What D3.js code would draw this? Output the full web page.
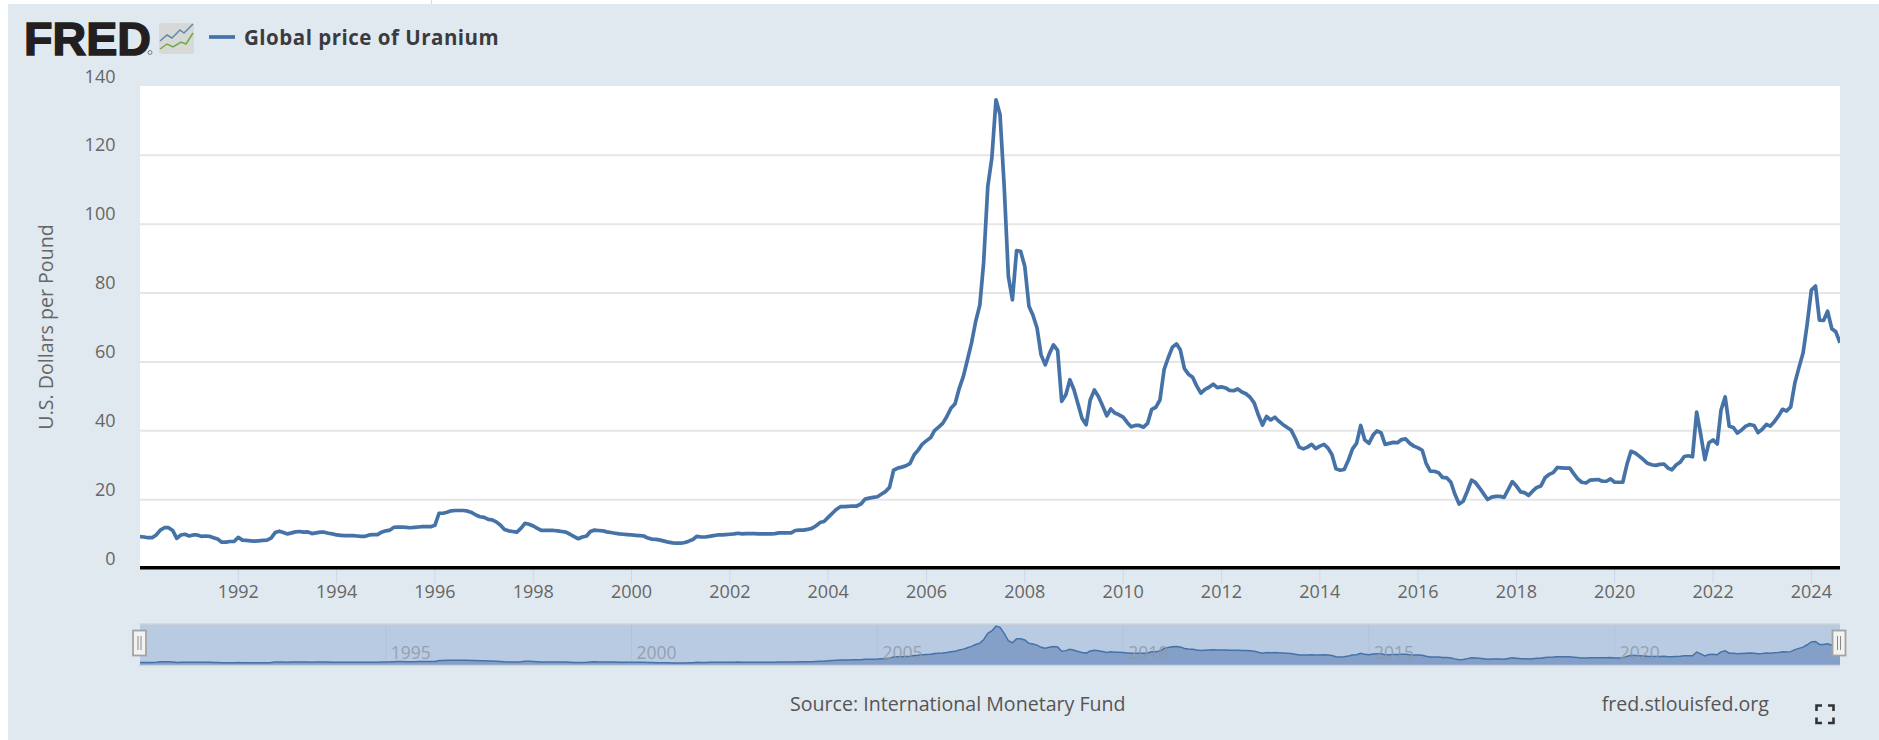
<!DOCTYPE html>
<html><head><meta charset="utf-8">
<script src="https://cdnjs.cloudflare.com/ajax/libs/d3/7.8.5/d3.min.js"></script>
<style>
html,body{margin:0;padding:0;background:#fff;overflow:hidden}
svg{display:block}
text{font-family:"Open Sans",sans-serif}
</style></head><body>
<svg id="c" width="1879" height="740"></svg>
<script>
const seriesName = "Global price of Uranium";
const yAxisTitle = "U.S. Dollars per Pound";
const sourceText = "Source: International Monetary Fund";
const siteText = "fred.stlouisfed.org";
const startYear = 1990;
const endDate = new Date(Date.UTC(2024, 7, 1));
const yTicks = [0, 20, 40, 60, 80, 100, 120, 140];
const xTickYears = [1992,1994,1996,1998,2000,2002,2004,2006,2008,2010,2012,2014,2016,2018,2020,2022,2024];
const navTickYears = [1995,2000,2005,2010,2015,2020];
// monthly, Jan 1990 onward
const prices = [
9.1,9,8.8,8.8,9.6,11,11.7,11.7,10.9,8.6,9.6,9.8,
9.3,9.6,9.6,9.2,9.3,9.2,8.8,8.4,7.5,7.5,7.7,7.7,
8.9,8.1,8,7.9,7.8,7.9,8,8.1,8.7,10.3,10.7,10.3,
9.9,10.2,10.5,10.6,10.4,10.5,10,10.2,10.4,10.4,10.1,9.9,
9.6,9.5,9.4,9.4,9.4,9.3,9.2,9.2,9.6,9.7,9.7,10.4,
10.8,11,11.8,11.9,11.9,11.8,11.7,11.8,11.9,12,12,12,
12.4,15.9,15.9,16.2,16.6,16.7,16.7,16.7,16.5,16.1,15.4,14.9,
14.7,14.1,14,13.4,12.5,11.2,10.8,10.6,10.4,11.5,13,12.7,
12.2,11.5,10.9,10.9,10.9,10.9,10.8,10.6,10.4,9.8,9.1,8.5,
9,9.3,10.6,11,10.9,10.8,10.5,10.3,10.1,9.9,9.8,9.7,
9.6,9.5,9.4,9.3,8.7,8.4,8.3,8.1,7.8,7.5,7.3,7.2,
7.2,7.4,7.8,8.3,9.2,9,9,9.2,9.4,9.6,9.6,9.7,
9.8,9.9,10.1,9.9,10,10,10,9.9,9.9,9.9,9.9,10,
10.2,10.2,10.2,10.2,10.9,11,11,11.2,11.5,12.2,13.2,13.5,
14.7,15.9,17,17.8,17.8,17.9,18,18,18.6,20,20.3,20.5,
20.7,21.5,22.2,23.4,28.4,29,29.3,29.7,30.4,32.9,34.3,36,
37,37.9,39.9,40.9,42,44,46.4,47.7,52.2,55.6,60.5,65.3,
71.6,76.4,88.6,110.8,119,136,131.7,110.8,84.7,77.9,92.2,92,
87.6,76,73.5,69.7,61.9,59,62.2,64.8,63.2,48.4,50.3,54.7,
51.7,47.4,43.5,41.6,48.8,51.7,49.8,47.1,44.2,46.2,45,44.5,
43.8,42.2,41,41.4,41.4,40.9,42,46.1,46.7,48.8,57.6,61,
64.1,65.1,63.4,57.9,56.3,55.4,52.9,50.8,51.9,52.5,53.4,52.4,
52.6,52.3,51.6,51.5,52,51.1,50.6,49.6,47.9,44.5,41.5,44,
43,43.8,42.7,41.7,40.9,40.1,37.8,35.1,34.6,35.1,35.9,34.7,
35.4,35.9,34.9,33,28.8,28.4,28.6,31.3,34.6,36.2,41.4,37.2,
36.2,38.6,39.8,39.3,35.9,36.2,36.5,36.4,37.3,37.5,36.2,35.4,
34.9,34.2,30.4,28.1,28.1,27.7,26.3,26.2,24.9,21.4,18.6,19.4,
22.3,25.5,24.9,23.3,21.6,19.9,20.6,20.8,20.8,20.5,22.8,25.1,
23.8,22.1,21.9,21.1,22.3,23.4,23.8,26.2,27.2,27.7,29.2,29.1,
29,29,27.5,25.9,24.9,24.7,25.5,25.6,25.7,25.2,25.2,25.9,
24.9,24.9,24.9,30.1,33.9,33.4,32.5,31.5,30.4,30,29.8,30.1,
30.2,29,28.5,29.9,30.7,32.4,32.6,32.3,45.3,38.8,31.5,36.4,
37.2,36,45.9,49.7,41.2,40.8,39.2,40.1,41.2,41.7,41.4,39.3,
40.3,41.7,41.2,42.5,44.1,46.1,45.6,46.8,53.8,58.2,62.5,70.8,
80.7,81.9,72,71.9,74.6,69.5,68.6,65.4
];

const data = prices.map((v,i)=>({date:new Date(Date.UTC(startYear,i,1)),value:v}));
const yearDate = yr => new Date(Date.UTC(yr,0,1));

const W=1879,H=740, plotL=140,plotR=1840,plotT=86,plotB=568;
const navTop=624,navBottom=665;
const PANEL="#e1e9f0", LINE="#4572a7";
const svg=d3.select("#c");

svg.append("rect").attr("x",8).attr("y",4).attr("width",W-8).attr("height",H-4).attr("fill",PANEL);
svg.append("line").attr("x1",431.5).attr("x2",431.5).attr("y1",0).attr("y2",4).attr("stroke","#ddd");
svg.append("rect").attr("x",plotL).attr("y",plotT).attr("width",plotR-plotL).attr("height",plotB-plotT).attr("fill","#fff");

const x=d3.scaleUtc().domain([yearDate(startYear),endDate]).range([plotL,plotR]);
const y=d3.scaleLinear().domain([0,140]).range([plotB,plotT]);
const yNav=d3.scaleLinear().domain([0,140]).range([navBottom,navTop+1]);

// grid + y labels
const yAxis=svg.append("g").attr("transform",`translate(${plotL},0)`)
  .call(d3.axisLeft(y).tickValues(yTicks).tickSize(0).tickPadding(0));
yAxis.select(".domain").remove();
yAxis.selectAll(".tick line").attr("x1",0).attr("x2",plotR-plotL).attr("stroke","#e6e6e6").attr("stroke-width",2)
  .filter(d=>d===0||d===140).remove();
yAxis.selectAll(".tick text").attr("x",-24.5).attr("y",-4).attr("dy",0).attr("fill","#666")
  .style("font-size","18px").attr("text-anchor","end");

// clip
svg.append("clipPath").attr("id","pc").append("rect").attr("x",plotL).attr("y",plotT).attr("width",plotR-plotL).attr("height",plotB-plotT);

// x axis
const xAxis=svg.append("g").attr("transform",`translate(0,${plotB})`)
  .call(d3.axisBottom(x).offset(0).tickValues(xTickYears.map(yearDate)).tickFormat(d3.utcFormat("%Y")).tickSize(15).tickPadding(2));
xAxis.select(".domain").remove();
xAxis.selectAll(".tick line").attr("stroke","#ccd6eb");
xAxis.selectAll(".tick text").attr("fill","#666").style("font-size","18px");

// main line
const lineGen=d3.line().x(d=>x(d.date)).y(d=>y(d.value));
svg.append("path").datum(data).attr("clip-path","url(#pc)").attr("d",lineGen)
  .attr("fill","none").attr("stroke",LINE).attr("stroke-width",3.7).attr("stroke-linejoin","round");

svg.append("line").attr("x1",plotL).attr("x2",plotR).attr("y1",567.8).attr("y2",567.8).attr("stroke","#000").attr("stroke-width",3.6);

// navigator
svg.append("rect").attr("x",plotL).attr("y",navTop).attr("width",plotR-plotL).attr("height",navBottom-navTop).attr("fill","#b9cbe3");
svg.selectAll(".navgrid").data(navTickYears).join("line").attr("class","navgrid")
  .attr("x1",d=>x(yearDate(d))).attr("x2",d=>x(yearDate(d))).attr("y1",navTop).attr("y2",navBottom)
  .attr("stroke","#b2c3dc").attr("stroke-width",1);
const areaGen=d3.area().x(d=>x(d.date)).y0(navBottom).y1(d=>yNav(d.value));
svg.append("path").datum(data).attr("d",areaGen).attr("fill","#84a0c9");
svg.append("path").datum(data).attr("d",d3.line().x(d=>x(d.date)).y(d=>yNav(d.value)))
  .attr("fill","none").attr("stroke",LINE).attr("stroke-width",1.5);
svg.append("line").attr("x1",plotL-1).attr("x2",plotR).attr("y1",navTop).attr("y2",navTop).attr("stroke","#cdd3da").attr("stroke-width",1.5);
svg.append("line").attr("x1",plotL-1).attr("x2",plotR).attr("y1",navBottom+.5).attr("y2",navBottom+.5).attr("stroke","#cdd3da").attr("stroke-width",1.5);
svg.selectAll(".navlab").data(navTickYears).join("text").attr("class","navlab")
  .attr("x",d=>x(yearDate(d))+5).attr("y",659).text(d=>d)
  .attr("fill","#8f9aa8").attr("opacity",.85).style("font-size","17.5px");
// handles
[plotL-.5,plotR-1].forEach(hx=>{
  const g=svg.append("g").attr("transform",`translate(${hx},0)`);
  g.append("rect").attr("x",-6.5).attr("y",630.5).attr("width",13).attr("height",25).attr("fill","#f2f2f2").attr("stroke","#a3a3a3").attr("stroke-width",1.8);
  g.append("line").attr("x1",-1.5).attr("x2",-1.5).attr("y1",636).attr("y2",650).attr("stroke","#888");
  g.append("line").attr("x1",1.5).attr("x2",1.5).attr("y1",636).attr("y2",650).attr("stroke","#888");
});

// axis title
svg.append("text").attr("transform","translate(53,327) rotate(-90)").attr("text-anchor","middle")
  .attr("fill","#666").style("font-size","19.6px").text(yAxisTitle);

// FRED logo
svg.append("text").attr("x",24).attr("y",55).text("FRED")
  .style("font-family","'Liberation Sans',sans-serif").style("font-weight","700").style("font-size","46px")
  .attr("fill","#231f20").attr("stroke","#231f20").attr("stroke-width",1.5).attr("textLength",127).attr("lengthAdjust","spacingAndGlyphs");
svg.append("circle").attr("cx",150).attr("cy",52.5).attr("r",2).attr("fill","none").attr("stroke","#555").attr("stroke-width",.7);
const icon=svg.append("g");
icon.append("rect").attr("x",159).attr("y",23).attr("width",35).attr("height",31).attr("rx",3).attr("fill","#d8d9d6");
icon.append("path").attr("d","M160 41 L167 35 L172 38 L180 30 L184 33 L193 24").attr("fill","none").attr("stroke","#5b8bb0").attr("stroke-width",1.5);
icon.append("path").attr("d","M160 49 L167 44 L173 47 L181 42 L186 44 L193 33").attr("fill","none").attr("stroke","#6ea84a").attr("stroke-width",1.5);

// legend
svg.append("line").attr("x1",209).attr("x2",235).attr("y1",37).attr("y2",37).attr("stroke",LINE).attr("stroke-width",3.7);
svg.append("text").attr("x",244).attr("y",45).text(seriesName)
  .attr("fill","#3b3b3f").style("font-size","20.5px").style("font-weight","700").style("letter-spacing","0.5px");

// footer
svg.append("text").attr("x",790).attr("y",711).text(sourceText).attr("fill","#555").style("font-size","19.6px");
svg.append("text").attr("x",1769).attr("y",711).attr("text-anchor","end").text(siteText).attr("fill","#555").style("font-size","19.6px");

// fullscreen icon
const fs=svg.append("g").attr("fill","none").attr("stroke","#333").attr("stroke-width",2.6);
fs.append("path").attr("d","M1816.5 711 V705.5 H1822");
fs.append("path").attr("d","M1828 705.5 H1833.5 V711");
fs.append("path").attr("d","M1816.5 717.5 V723 H1822");
fs.append("path").attr("d","M1828 723 H1833.5 V717.5");
</script>
</body></html>
